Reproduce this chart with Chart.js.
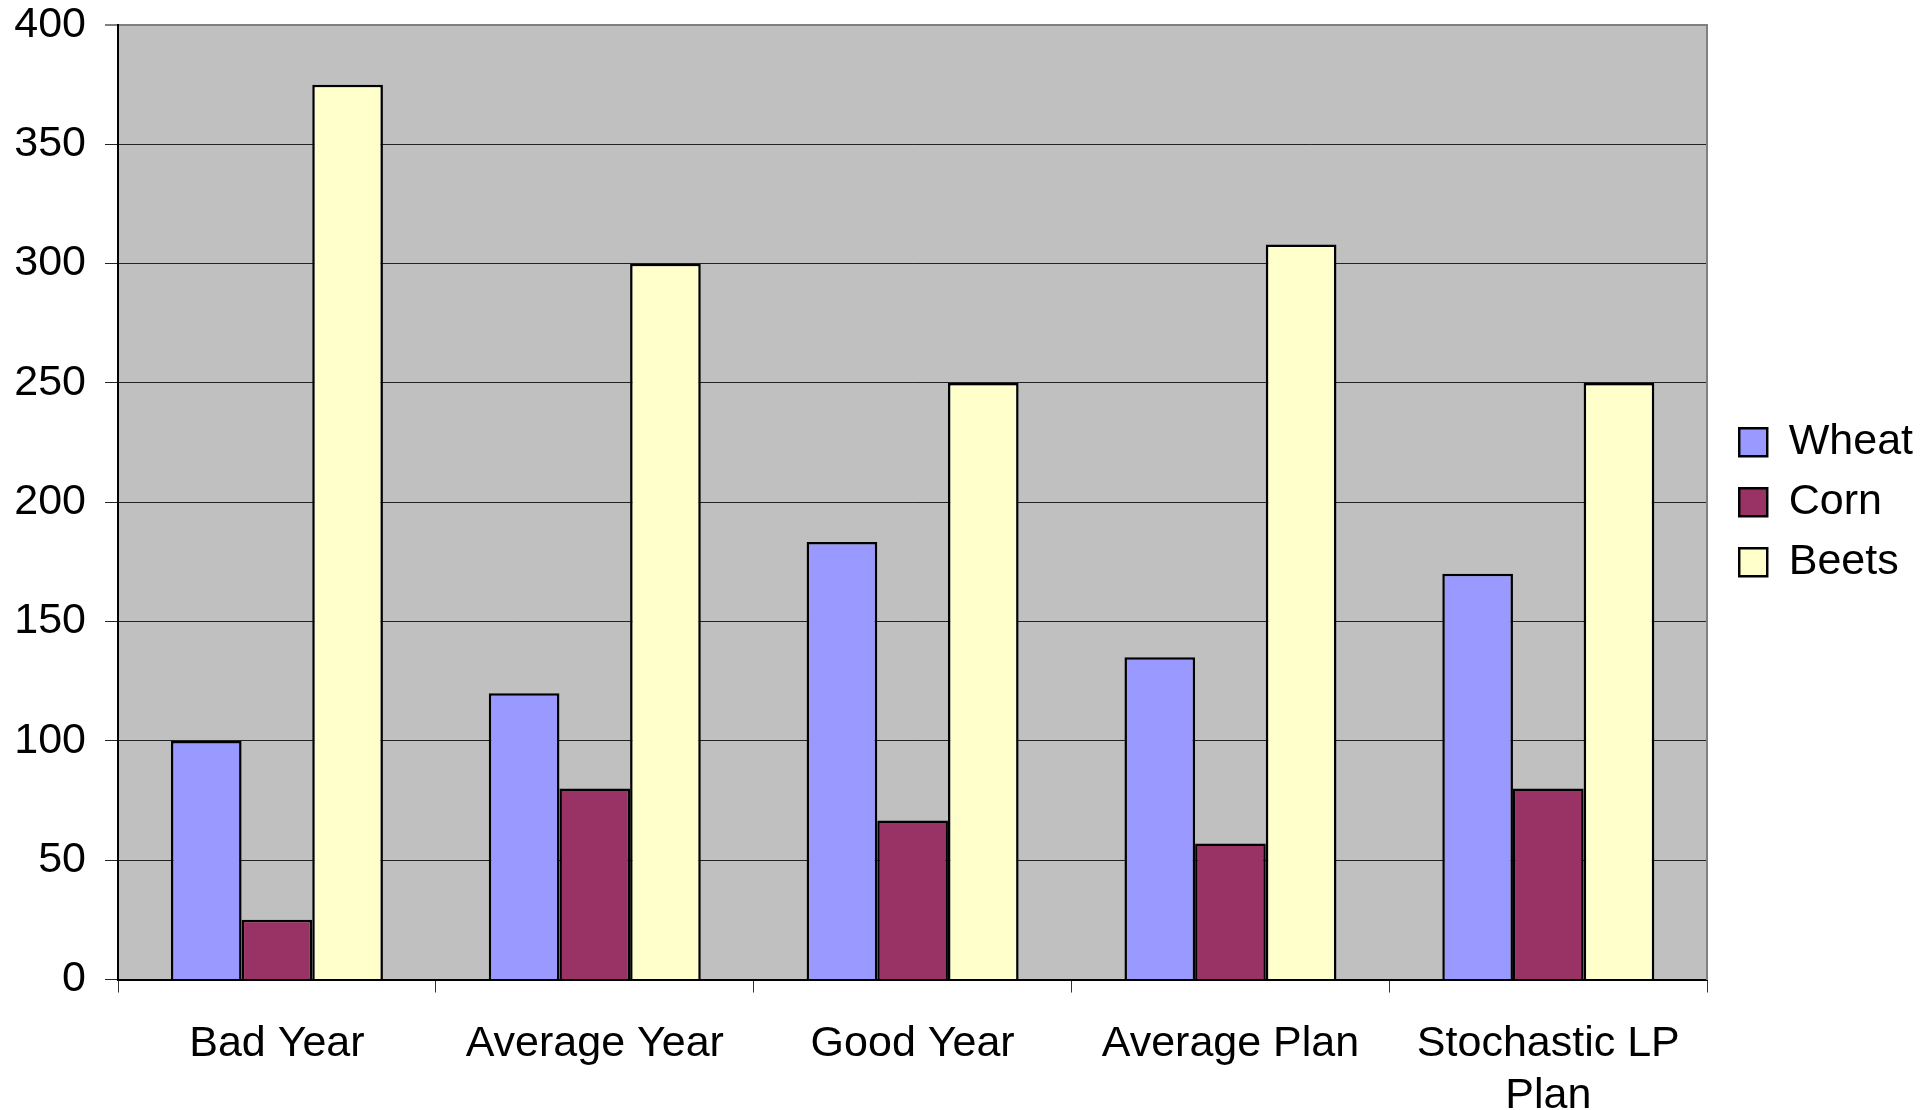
<!DOCTYPE html>
<html>
<head>
<meta charset="utf-8">
<title>Planting plans</title>
<script src="https://cdn.jsdelivr.net/npm/chart.js@4/dist/chart.umd.min.js"></script>
<style>
  html, body { margin: 0; padding: 0; background: #fff; }
  #wrap { position: relative; width: 1923px; height: 1110px; }
</style>
</head>
<body>
<div id="wrap"><canvas id="chart"></canvas></div>
<script>
"use strict";

const categories = ["Bad Year", "Average Year", "Good Year", "Average Plan", ["Stochastic LP", "Plan"]];
const wheat = [100, 120, 183.33, 135, 170];
const corn = [25, 80, 66.67, 57, 80];
const beets = [375, 300, 250, 308, 250];
const yTicks = [0, 50, 100, 150, 200, 250, 300, 350, 400];

const FONT = "'Liberation Sans', Arial, sans-serif";
const SIZE = 43;

// grey plot area like the old spreadsheet charts
const plotBackground = {
  id: "plotBackground",
  beforeDraw(chart) {
    const { ctx, chartArea: a } = chart;
    ctx.save();
    ctx.fillStyle = "#c0c0c0";
    ctx.fillRect(a.left, a.top, a.right - a.left, a.bottom - a.top);
    ctx.restore();
  },
};

function series(label, data, color) {
  return {
    label,
    data,
    backgroundColor: color,
    borderColor: "#000",
    borderWidth: 2.5,
    categoryPercentage: 0.667,
    barPercentage: 1.0,
  };
}

new Chart(document.getElementById("chart"), {
  type: "bar",
  data: {
    labels: categories,
    datasets: [
      series("Wheat", wheat, "#9999ff"),
      series("Corn", corn, "#993366"),
      series("Beets", beets, "#ffffcc"),
    ],
  },
  options: {
    responsive: true,
    maintainAspectRatio: false,
    devicePixelRatio: 1,
    animation: false,
    layout: { padding: 0 },
    plugins: {
      tooltip: { enabled: false },
      legend: {
        position: "right",
        fullSize: false,
        labels: {
          boxWidth: 28,
          boxHeight: 28,
          padding: 17,
          color: "#000",
          font: { family: FONT, size: SIZE },
        },
      },
    },
    scales: {
      x: {
        grid: { display: true, drawOnChartArea: false, offset: true, tickLength: 13, color: "#333" },
        border: { display: true, color: "#000", width: 2 },
        ticks: { color: "#000", padding: 26, maxRotation: 0, autoSkip: false, font: { family: FONT, size: SIZE } },
        afterFit: (s) => { s.height = 130.5; },
      },
      y: {
        min: 0,
        max: 400,
        afterBuildTicks: (s) => { s.ticks = yTicks.map((v) => ({ value: v })); },
        grid: {
          tickLength: 13,
          color: (c) => (c.tick && c.tick.value === 400 ? "#808080" : "#222"),
          lineWidth: (c) => (c.tick && c.tick.value === 400 ? 2 : 1),
        },
        border: { display: true, color: "#000", width: 2 },
        ticks: { color: "#000", padding: 19, font: { family: FONT, size: SIZE } },
        // fixed axis width, and stop the label padding from pushing the plot down
        afterFit: (s) => {
          s.width = 118;
          s.paddingTop = 25;
          s.paddingBottom = 0;
        },
      },
      // empty right axis: draws the grey right edge and leaves the gap before the legend
      y2: {
        position: "right",
        min: 0,
        max: 400,
        grid: { display: false },
        ticks: { display: false },
        border: { display: true, color: "#808080", width: 2 },
        afterFit: (s) => { s.width = 15; },
      },
    },
  },
  plugins: [plotBackground],
});
</script>
</body>
</html>
